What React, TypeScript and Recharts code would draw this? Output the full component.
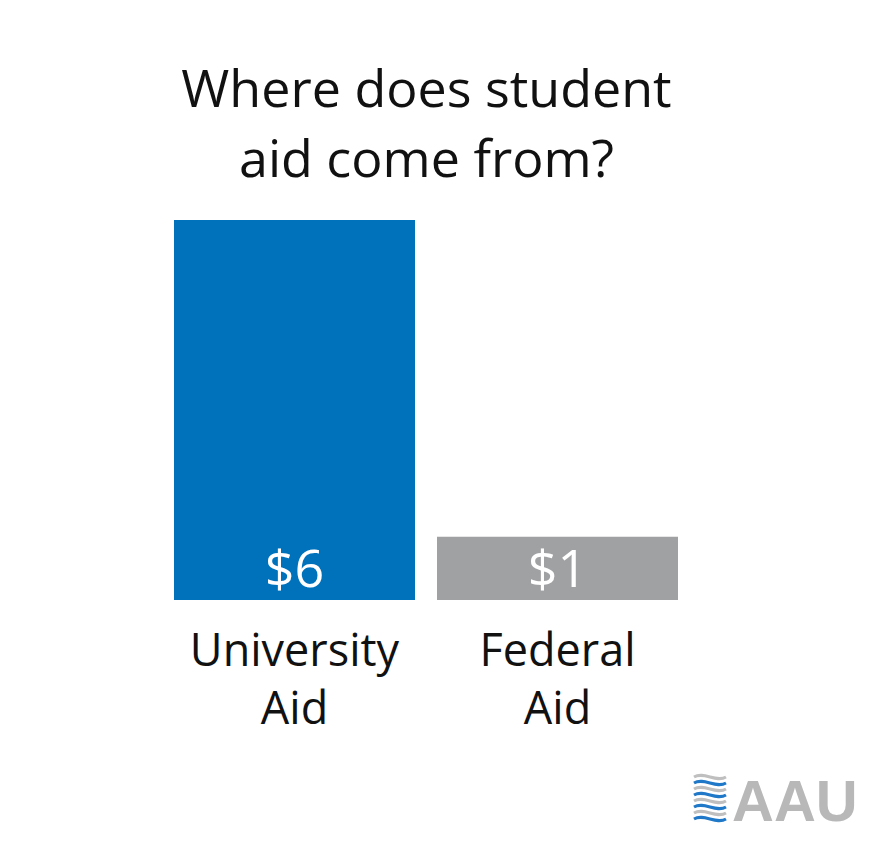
import { Bar, BarChart, Cell, LabelList, XAxis, YAxis } from 'recharts';

const categories = ['University Aid', 'Federal Aid'];
const amounts = [6, 1];
const valueLabels = ['$6', '$1'];
const barColors = ['#0072bc', '#a0a1a3'];

const data = categories.map((name, i) => ({ name, value: amounts[i], label: valueLabels[i] }));

const FONT = '"Open Sans", "Noto Sans", sans-serif';

function TwoLineTick(props: any) {
  const { x, y, payload } = props;
  const words = String(payload.value).split(' ');
  return (
    <g transform={`translate(${x},${y})`}>
      {words.map((w: string, i: number) => (
        <text
          key={i}
          x={0}
          y={58 + i * 58}
          textAnchor="middle"
          fill="#111"
          fontSize={45}
          fontFamily={FONT}
        >
          {w}
        </text>
      ))}
    </g>
  );
}

function ValueLabel(props: any) {
  const { x, y, width, height, value } = props;
  return (
    <text
      x={x + width / 2}
      y={y + height - 13}
      textAnchor="middle"
      fill="#fff"
      fontSize={52}
      fontFamily={FONT}
    >
      {value}
    </text>
  );
}

function Logo() {
  return (
    <div style={{ position: 'absolute', left: 690, top: 772, display: 'flex', alignItems: 'center' }}>
      <svg width={40} height={56} viewBox="0 0 40 56">
        {[8, 20, 32, 44].map((cy, i) => (
          <g key={i}>
            <path d={`M4 ${cy - 4} C 14 ${cy - 10}, 26 ${cy + 2}, 36 ${cy - 4}`} stroke="#bfbfbf" strokeWidth={3} fill="none" />
            <path d={`M4 ${cy + 2} C 14 ${cy - 4}, 26 ${cy + 8}, 36 ${cy + 2}`} stroke="#1f78c8" strokeWidth={3} fill="none" />
          </g>
        ))}
      </svg>
      <span
        style={{
          fontFamily: '"Liberation Sans", Arial, sans-serif',
          fontWeight: 700,
          fontSize: 58,
          color: '#b8b8b8',
          lineHeight: 1,
          marginLeft: 2,
        }}
      >
        AAU
      </span>
    </div>
  );
}

export default function App() {
  return (
    <div style={{ position: 'fixed', left: 0, top: 0, width: 873, height: 847, background: '#fff' }}>
      <div
        style={{
          position: 'absolute',
          left: 0,
          top: 52,
          width: 853,
          textAlign: 'center',
          fontFamily: FONT,
          fontSize: 52,
          lineHeight: '70px',
          color: '#111',
        }}
      >
        Where does student
        <br />
        aid come from?
      </div>
      <BarChart
        width={873}
        height={847}
        data={data}
        margin={{ top: 220, right: 184, bottom: 217, left: 163 }}
        barCategoryGap={11}
      >
        <XAxis
          dataKey="name"
          axisLine={false}
          tickLine={false}
          interval={0}
          tick={<TwoLineTick />}
        />
        <YAxis hide domain={[0, 6]} />
        <Bar dataKey="value" isAnimationActive={false}>
          <LabelList dataKey="label" content={<ValueLabel />} />
          {data.map((d, i) => (
            <Cell key={d.name} fill={barColors[i]} />
          ))}
        </Bar>
      </BarChart>
      <Logo />
    </div>
  );
}
